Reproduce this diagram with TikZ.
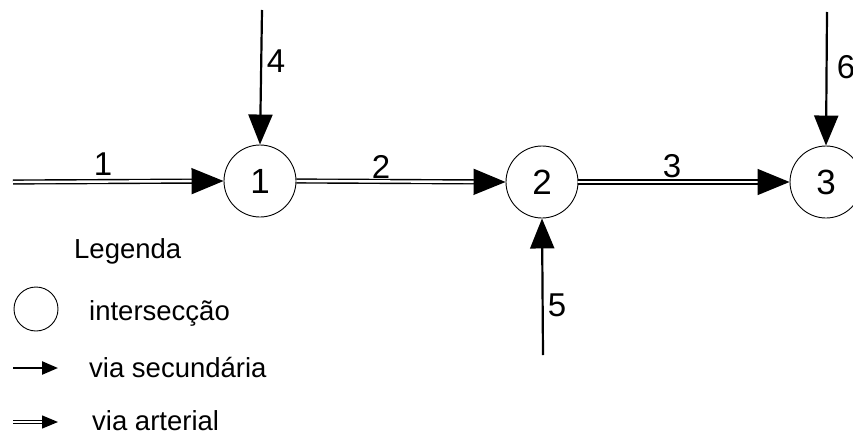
\documentclass[tikz,border=0pt]{standalone}
\usepackage{fontspec}
\setmainfont{Liberation Sans}
\usetikzlibrary{arrows.meta}
\begin{document}
\begin{tikzpicture}[x=1pt,y=-1pt,
  inter/.style={circle,draw,line width=0.9pt,minimum size=72pt,inner sep=0pt,font=\fontsize{35}{35}\selectfont},
  arterial/.style={double,double distance=2.4pt,line width=1.4pt,-{Triangle[length=32pt,width=26pt]}},
  secund/.style={line width=2.2pt,-{Triangle[length=30pt,width=24pt]}},
  elabel/.style={font=\fontsize{33}{33}\selectfont,inner sep=0pt},
  legtext/.style={font=\fontsize{27.5}{27.5}\selectfont,anchor=base west,inner sep=0pt}]
\useasboundingbox (0,0) rectangle (853,436);
\fill[white] (0,0) rectangle (853,436);
% intersections
\node[inter] (n1) at (260,181) {1};
\node[inter] (n2) at (542,182) {2};
\node[inter] (n3) at (826,182) {3};
% free ends
\coordinate (s1) at (13,182);
\coordinate (s4) at (262,10);
\coordinate (s5) at (543,355);
\coordinate (s6) at (827,12);
% connectors
\draw[arterial] (s1) -- (n1.west);
\draw[arterial] (n1.east) -- (n2.west);
\draw[arterial] (n2.east) -- (n3.west);
\draw[secund] (s4) -- (n1.north);
\draw[secund] (s5) -- (n2.south);
\draw[secund] (s6) -- (n3.north);
% labels
\node[elabel] (l1) at (103,164) {1};
\node[elabel] (l2) at (381,167) {2};
\node[elabel] (l3) at (672,166) {3};
\node[elabel] (l4) at (276,61) {4};
\node[elabel] (l5) at (557,305) {5};
\node[elabel] (l6) at (846,67) {6};
% legend
\node[legtext] (lg) at (74,258) {Legenda};
\node[circle,draw,line width=0.9pt,minimum size=44pt,inner sep=0pt] (lc) at (36,309) {};
\node[legtext] (li) at (89,320) {intersecção};
\coordinate (ls1) at (13,368);
\coordinate (ls2) at (58,368);
\draw[line width=2.4pt,-{Triangle[length=16pt,width=13pt]}] (ls1) -- (ls2);
\node[legtext] (lsec) at (89,377) {via secundária};
\coordinate (la1) at (13,422);
\coordinate (la2) at (58,422);
\draw[double,double distance=2.2pt,line width=1.3pt,-{Triangle[length=16pt,width=13pt]}] (la1) -- (la2);
\node[legtext] (lart) at (92,430) {via arterial};
\end{tikzpicture}
\end{document}
